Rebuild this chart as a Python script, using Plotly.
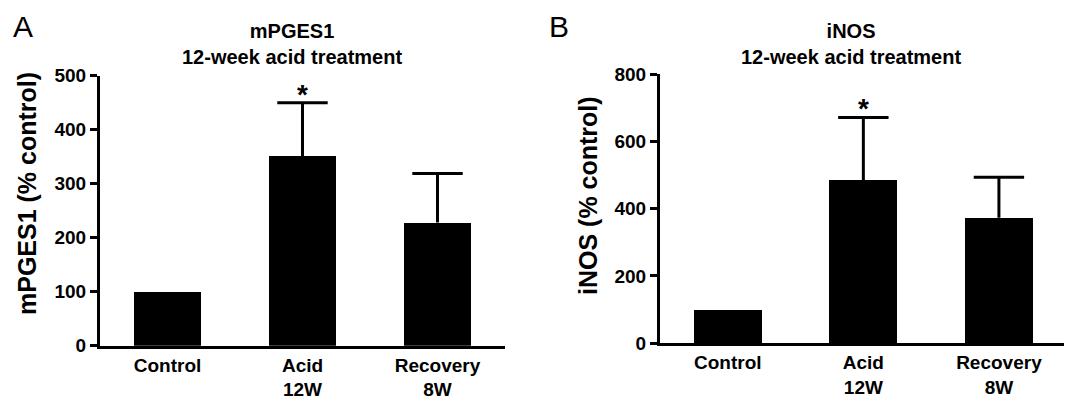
import plotly.graph_objects as go

categories = ["Control", "Acid<br>12W", "Recovery<br>8W"]
mpges1_mean = [100, 351, 228]
mpges1_err = [None, 99, 91]
inos_mean = [100, 485, 373]
inos_err = [None, 186, 120]
sig_index = 1  # Acid 12W marked significant

# page has an 8px body margin; size the figure to fill the rest of the window
OFF = 8
W, H = 1072 - OFF, 400 - OFF

def px_x(p):
    return (p - OFF) / W

def px_y(p):
    return 1 - (p - OFF) / H

fig = go.Figure()

FAM = "Liberation Sans, Arial, sans-serif"
xfont = dict(family=FAM, size=19, color="black", weight="bold")
yfont = dict(family=FAM, size=19, color="black", weight="bold")

for mean, err, xa, ya in [(mpges1_mean, mpges1_err, "x", "y"),
                          (inos_mean, inos_err, "x2", "y2")]:
    xs = list(range(len(categories)))
    fig.add_trace(go.Bar(
        x=xs, y=mean, width=0.5,
        marker=dict(color="black", line=dict(width=0)),
        xaxis=xa, yaxis=ya, showlegend=False, hoverinfo="skip",
    ))
    ex = [x for x, e in zip(xs, err) if e is not None]
    ey = [m for m, e in zip(mean, err) if e is not None]
    ee = [e for e in err if e is not None]
    # stems (no caps)
    fig.add_trace(go.Scatter(
        x=ex, y=ey, mode="markers", marker=dict(size=1, color="black", opacity=0),
        error_y=dict(type="data", symmetric=False, array=ee, arrayminus=[0] * len(ee),
                     color="black", thickness=3, width=0),
        xaxis=xa, yaxis=ya, showlegend=False, hoverinfo="skip",
    ))
    # upper caps
    fig.add_trace(go.Scatter(
        x=ex, y=[m + e for m, e in zip(ey, ee)], mode="markers",
        marker=dict(symbol="line-ew", size=36, color="black", line=dict(width=3, color="black")),
        xaxis=xa, yaxis=ya, showlegend=False, hoverinfo="skip", cliponaxis=False,
    ))
    fig.add_annotation(
        x=sig_index, y=mean[sig_index] + err[sig_index], xref=xa, yref=ya,
        text="*", showarrow=False, yanchor="bottom", yshift=-9,
        font=dict(family=FAM, size=28, color="black", weight="bold"),
    )

xcommon = dict(
    tickmode="array", tickvals=[0, 1, 2], ticktext=categories,
    range=[-0.5, 2.5], showline=True, linecolor="black", linewidth=3,
    ticks="", ticklen=0,
    tickfont=xfont, showgrid=False, zeroline=False, fixedrange=True,
    automargin=False,
)
ycommon = dict(
    showline=True, linecolor="black", linewidth=3, ticks="outside",
    ticklen=7, tickwidth=3, tickcolor="black", tickfont=yfont,
    showgrid=False, zeroline=False, fixedrange=True, automargin=False,
)

fig.update_layout(
    width=W, height=H,
    margin=dict(l=0, r=0, t=0, b=0, autoexpand=False),
    paper_bgcolor="white", plot_bgcolor="white",
    bargap=0,
    xaxis=dict(domain=[px_x(100), px_x(505)], anchor="y", **xcommon),
    yaxis=dict(domain=[px_y(345.7), px_y(75.7)], anchor="x", range=[0, 500], dtick=100, **ycommon),
    xaxis2=dict(domain=[px_x(660), px_x(1066.7)], anchor="y2", **xcommon),
    yaxis2=dict(domain=[px_y(343.3), px_y(74)], anchor="x2", range=[0, 800], dtick=200, **ycommon),
)

title_font = dict(family=FAM, size=20, color="black", weight="bold")
label_font = dict(family=FAM, size=25, color="black", weight="bold")
letter_font = dict(family=FAM, size=30, color="black")

for cx, name in [(292, "mPGES1"), (851, "iNOS")]:
    fig.add_annotation(x=px_x(cx), y=px_y(44), xref="paper", yref="paper",
                       text=name + "<br>12-week acid treatment", showarrow=False,
                       xanchor="center", yanchor="middle", font=title_font)

fig.add_annotation(x=px_x(27), y=px_y(194), xref="paper", yref="paper",
                   text="mPGES1 (% control)", textangle=-90, showarrow=False,
                   xanchor="center", yanchor="middle", font=label_font)
fig.add_annotation(x=px_x(588), y=px_y(196), xref="paper", yref="paper",
                   text="iNOS (% control)", textangle=-90, showarrow=False,
                   xanchor="center", yanchor="middle", font=label_font)

fig.add_annotation(x=px_x(23), y=px_y(26), xref="paper", yref="paper",
                   text="A", showarrow=False, xanchor="center", yanchor="middle", font=letter_font)
fig.add_annotation(x=px_x(559), y=px_y(26), xref="paper", yref="paper",
                   text="B", showarrow=False, xanchor="center", yanchor="middle", font=letter_font)

fig.write_html("out.html")
